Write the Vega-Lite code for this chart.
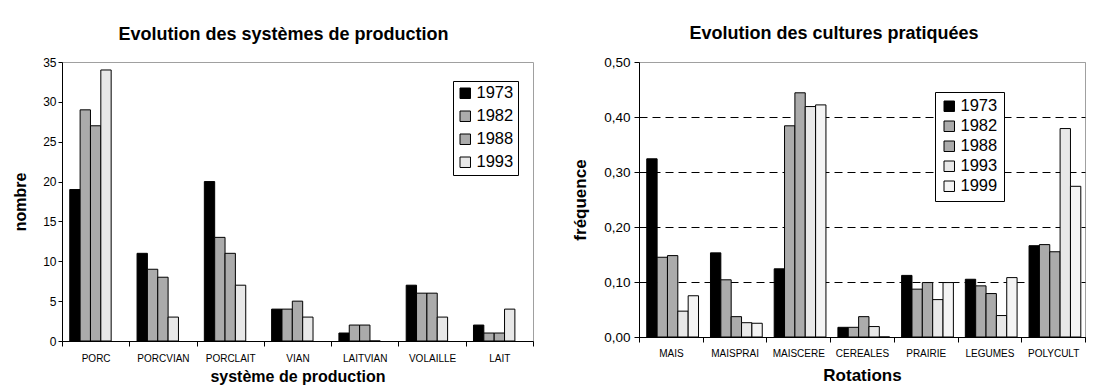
{
  "$schema": "https://vega.github.io/schema/vega-lite/v6.json",
  "background": "white",
  "padding": {"left": 12, "top": 24, "right": 10, "bottom": 5},
  "datasets": {
    "systemes": [
      {"systeme": "PORC", "annee": "1973", "nombre": 19},
      {"systeme": "PORC", "annee": "1982", "nombre": 29},
      {"systeme": "PORC", "annee": "1988", "nombre": 27},
      {"systeme": "PORC", "annee": "1993", "nombre": 34},
      {"systeme": "PORCVIAN", "annee": "1973", "nombre": 11},
      {"systeme": "PORCVIAN", "annee": "1982", "nombre": 9},
      {"systeme": "PORCVIAN", "annee": "1988", "nombre": 8},
      {"systeme": "PORCVIAN", "annee": "1993", "nombre": 3},
      {"systeme": "PORCLAIT", "annee": "1973", "nombre": 20},
      {"systeme": "PORCLAIT", "annee": "1982", "nombre": 13},
      {"systeme": "PORCLAIT", "annee": "1988", "nombre": 11},
      {"systeme": "PORCLAIT", "annee": "1993", "nombre": 7},
      {"systeme": "VIAN", "annee": "1973", "nombre": 4},
      {"systeme": "VIAN", "annee": "1982", "nombre": 4},
      {"systeme": "VIAN", "annee": "1988", "nombre": 5},
      {"systeme": "VIAN", "annee": "1993", "nombre": 3},
      {"systeme": "LAITVIAN", "annee": "1973", "nombre": 1},
      {"systeme": "LAITVIAN", "annee": "1982", "nombre": 2},
      {"systeme": "LAITVIAN", "annee": "1988", "nombre": 2},
      {"systeme": "LAITVIAN", "annee": "1993", "nombre": 0},
      {"systeme": "VOLAILLE", "annee": "1973", "nombre": 7},
      {"systeme": "VOLAILLE", "annee": "1982", "nombre": 6},
      {"systeme": "VOLAILLE", "annee": "1988", "nombre": 6},
      {"systeme": "VOLAILLE", "annee": "1993", "nombre": 3},
      {"systeme": "LAIT", "annee": "1973", "nombre": 2},
      {"systeme": "LAIT", "annee": "1982", "nombre": 1},
      {"systeme": "LAIT", "annee": "1988", "nombre": 1},
      {"systeme": "LAIT", "annee": "1993", "nombre": 4}
    ],
    "cultures": [
      {"rotation": "MAIS", "annee": "1973", "frequence": 0.324},
      {"rotation": "MAIS", "annee": "1982", "frequence": 0.145},
      {"rotation": "MAIS", "annee": "1988", "frequence": 0.148},
      {"rotation": "MAIS", "annee": "1993", "frequence": 0.047},
      {"rotation": "MAIS", "annee": "1999", "frequence": 0.075},
      {"rotation": "MAISPRAI", "annee": "1973", "frequence": 0.153},
      {"rotation": "MAISPRAI", "annee": "1982", "frequence": 0.104},
      {"rotation": "MAISPRAI", "annee": "1988", "frequence": 0.037},
      {"rotation": "MAISPRAI", "annee": "1993", "frequence": 0.026},
      {"rotation": "MAISPRAI", "annee": "1999", "frequence": 0.025},
      {"rotation": "MAISCERE", "annee": "1973", "frequence": 0.124},
      {"rotation": "MAISCERE", "annee": "1982", "frequence": 0.384},
      {"rotation": "MAISCERE", "annee": "1988", "frequence": 0.444},
      {"rotation": "MAISCERE", "annee": "1993", "frequence": 0.419},
      {"rotation": "MAISCERE", "annee": "1999", "frequence": 0.422},
      {"rotation": "CEREALES", "annee": "1973", "frequence": 0.0176},
      {"rotation": "CEREALES", "annee": "1982", "frequence": 0.0176},
      {"rotation": "CEREALES", "annee": "1988", "frequence": 0.037},
      {"rotation": "CEREALES", "annee": "1993", "frequence": 0.019},
      {"rotation": "CEREALES", "annee": "1999", "frequence": 0},
      {"rotation": "PRAIRIE", "annee": "1973", "frequence": 0.112},
      {"rotation": "PRAIRIE", "annee": "1982", "frequence": 0.087},
      {"rotation": "PRAIRIE", "annee": "1988", "frequence": 0.099},
      {"rotation": "PRAIRIE", "annee": "1993", "frequence": 0.068},
      {"rotation": "PRAIRIE", "annee": "1999", "frequence": 0.099},
      {"rotation": "LEGUMES", "annee": "1973", "frequence": 0.105},
      {"rotation": "LEGUMES", "annee": "1982", "frequence": 0.093},
      {"rotation": "LEGUMES", "annee": "1988", "frequence": 0.079},
      {"rotation": "LEGUMES", "annee": "1993", "frequence": 0.039},
      {"rotation": "LEGUMES", "annee": "1999", "frequence": 0.108},
      {"rotation": "POLYCULT", "annee": "1973", "frequence": 0.166},
      {"rotation": "POLYCULT", "annee": "1982", "frequence": 0.168},
      {"rotation": "POLYCULT", "annee": "1988", "frequence": 0.155},
      {"rotation": "POLYCULT", "annee": "1993", "frequence": 0.379},
      {"rotation": "POLYCULT", "annee": "1999", "frequence": 0.274}
    ]
  },
  "config": {
    "font": "Liberation Sans",
    "view": {"stroke": "#a0a0a0", "strokeWidth": 1},
    "axis": {
      "domainColor": "#000000",
      "tickColor": "#000000",
      "labelColor": "#000000",
      "titleColor": "#000000",
      "labelFont": "Liberation Sans",
      "titleFont": "Liberation Sans",
      "titleFontWeight": "bold"
    },
    "legend": {
      "labelFont": "Liberation Sans",
      "labelColor": "#000000"
    },
    "title": {"font": "Liberation Sans", "fontWeight": "bold", "color": "#000000", "fontSize": 18}
  },
  "spacing": 37,
  "resolve": {"scale": {"color": "independent"}, "legend": {"color": "independent"}},
  "hconcat": [
    {
      "width": 471,
      "height": 279,
      "title": {"text": "Evolution des systèmes de production", "offset": 12, "dx": -14},
      "data": {"name": "systemes"},
      "mark": {"type": "bar", "stroke": "#000000", "strokeWidth": 1},
      "encoding": {
        "x": {
          "field": "systeme",
          "type": "nominal",
          "sort": ["PORC", "PORCVIAN", "PORCLAIT", "VIAN", "LAITVIAN", "VOLAILLE", "LAIT"],
          "scale": {"paddingInner": 0, "paddingOuter": 0},
          "axis": {
            "title": "système de production",
            "labelAngle": 0,
            "labelFontSize": 10,
            "tickBand": "extent",
            "tickSize": 5,
            "labelPadding": 7,
            "titleFontSize": 16,
            "titlePadding": 5
          }
        },
        "xOffset": {
          "field": "annee",
          "type": "nominal",
          "sort": ["1973", "1982", "1988", "1993"],
          "scale": {"paddingInner": 0, "paddingOuter": 0.75}
        },
        "y": {
          "field": "nombre",
          "type": "quantitative",
          "scale": {"domain": [0, 35]},
          "axis": {
            "title": "nombre",
            "values": [0, 5, 10, 15, 20, 25, 30, 35],
            "grid": false,
            "tickSize": 4,
            "labelPadding": 2,
            "labelFontSize": 12,
            "titleFontSize": 16,
            "titlePadding": 14
          }
        },
        "color": {
          "field": "annee",
          "type": "nominal",
          "scale": {"domain": ["1973", "1982", "1988", "1993"], "range": ["#000000", "#ababab", "#ababab", "#e8e8e8"]},
          "legend": {
            "title": null,
            "orient": "none",
            "legendX": 391,
            "legendY": 19,
            "symbolType": "square",
            "symbolSize": 110,
            "symbolOffset": 0,
            "symbolStrokeColor": "#000000",
            "symbolStrokeWidth": 1,
            "labelFontSize": 16.5,
            "labelOffset": 3,
            "fillColor": "white",
            "strokeColor": "#000000",
            "padding": 4,
            "rowPadding": 6
          }
        }
      }
    },
    {
      "width": 446,
      "height": 275,
      "title": {"text": "Evolution des cultures pratiquées", "offset": 12, "dx": -28},
      "data": {"name": "cultures"},
      "mark": {"type": "bar", "stroke": "#000000", "strokeWidth": 1},
      "encoding": {
        "x": {
          "field": "rotation",
          "type": "nominal",
          "sort": ["MAIS", "MAISPRAI", "MAISCERE", "CEREALES", "PRAIRIE", "LEGUMES", "POLYCULT"],
          "scale": {"paddingInner": 0, "paddingOuter": 0},
          "axis": {
            "title": "Rotations",
            "labelAngle": 0,
            "labelFontSize": 10,
            "tickBand": "extent",
            "tickSize": 5,
            "labelPadding": 6,
            "titleFontSize": 17,
            "titlePadding": 9
          }
        },
        "xOffset": {
          "field": "annee",
          "type": "nominal",
          "sort": ["1973", "1982", "1988", "1993", "1999"],
          "scale": {"paddingInner": 0, "paddingOuter": 0.75}
        },
        "y": {
          "field": "frequence",
          "type": "quantitative",
          "scale": {"domain": [0, 0.5]},
          "axis": {
            "title": "fréquence",
            "values": [0, 0.1, 0.2, 0.3, 0.4, 0.5],
            "labelExpr": "replace(format(datum.value, '.2f'), '.', ',')",
            "grid": true,
            "gridDash": [8, 5],
            "gridColor": {"condition": {"test": "datum.value >= 0.5", "value": "#a0a0a0"}, "value": "#000000"},
            "tickSize": 5,
            "labelPadding": 4,
            "labelFontSize": 13.5,
            "titleFontSize": 17,
            "titlePadding": 14
          }
        },
        "color": {
          "field": "annee",
          "type": "nominal",
          "scale": {"domain": ["1973", "1982", "1988", "1993", "1999"], "range": ["#000000", "#ababab", "#ababab", "#e8e8e8", "#f4f4f4"]},
          "legend": {
            "title": null,
            "orient": "none",
            "legendX": 296,
            "legendY": 30,
            "symbolType": "square",
            "symbolSize": 110,
            "symbolOffset": 0,
            "symbolStrokeColor": "#000000",
            "symbolStrokeWidth": 1,
            "labelFontSize": 16.5,
            "labelOffset": 3,
            "fillColor": "white",
            "strokeColor": "#000000",
            "padding": 6,
            "rowPadding": 3
          }
        }
      }
    }
  ]
}
